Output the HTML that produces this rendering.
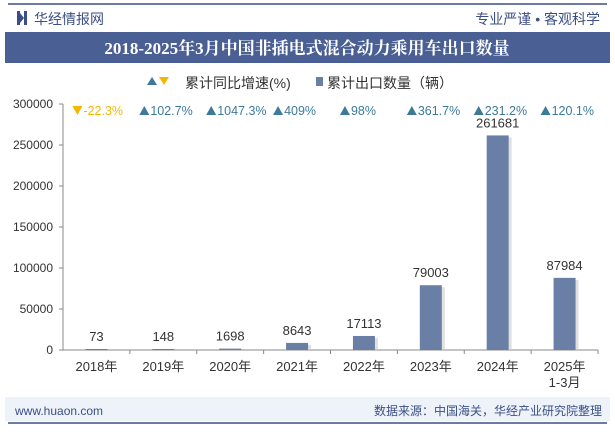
<!DOCTYPE html>
<html><head><meta charset="utf-8"><style>
body{margin:0;width:615px;height:427px;background:#fff;font-family:"Liberation Sans","Noto Sans CJK SC",sans-serif;overflow:hidden}
</style></head><body>
<svg width="615" height="427" xmlns="http://www.w3.org/2000/svg" style="font-family:'Liberation Sans','Noto Sans CJK SC',sans-serif">
<line x1="8" y1="4" x2="607" y2="4" stroke="#3b4f86" stroke-width="1.5"/>
<rect x="17" y="11" width="3" height="14" fill="#3b4f86"/><rect x="24" y="11" width="3" height="14" fill="#3b4f86"/><polygon points="20,13 24,18 20,23" fill="#3b4f86"/>
<text x="34" y="24" font-size="14" fill="#3b4f86">华经情报网</text>
<text x="600" y="24" font-size="14" fill="#3b4f86" text-anchor="end">专业严谨 • 客观科学</text>
<rect x="5" y="32" width="605" height="31" fill="#4a5f93"/>
<text x="307" y="54" font-size="17" font-weight="bold" fill="#fff" text-anchor="middle" font-family="'Liberation Serif','Noto Serif CJK SC',serif">2018-2025年3月中国非插电式混合动力乘用车出口数量</text>
<g>
<polygon points="147,85 152,77 157,85" fill="#3d7a9a"/><polygon points="159,77 169,77 164,85" fill="#f5b800"/>
<text x="185" y="88" font-size="14" fill="#333">累计同比增速(%)</text>
<rect x="316" y="77" width="7" height="9" fill="#6a7fa6"/>
<text x="327" y="88" font-size="14" fill="#333">累计出口数量（辆）</text>
</g>
<g id="axes"></g><g id="plot"></g>
<rect x="5" y="397" width="605" height="24" fill="#eef2f9"/>
<text x="15" y="415" font-size="12" fill="#3b4f86">www.huaon.com</text>
<text x="602" y="415" font-size="12" fill="#3b4f86" text-anchor="end">数据来源：中国海关，华经产业研究院整理</text>
<line x1="8" y1="423" x2="607" y2="423" stroke="#3b4f86" stroke-width="1.5"/>
</svg>
<script>
const categories=["2018年","2019年","2020年","2021年","2022年","2023年","2024年","2025年\n1-3月"];
const exportsVal=[73,148,1698,8643,17113,79003,261681,87984];
const growth=[-22.3,102.7,1047.3,409,98,361.7,231.2,120.1];
const growthLabels=["-22.3%","102.7%","1047.3%","409%","98%","361.7%","231.2%","120.1%"];
const yTicks=[0,50000,100000,150000,200000,250000,300000];
const NS="http://www.w3.org/2000/svg";
const x0=63,x1=598,yB=350,yT=104,yMax=300000;
const bw=(x1-x0)/categories.length;
const xc=i=>x0+bw*(i+0.5);
const y=v=>yB-(v/yMax)*(yB-yT);
function mk(t,a,p){const e=document.createElementNS(NS,t);for(const k in a)e.setAttribute(k,a[k]);p.appendChild(e);return e;}
const ax=document.getElementById('axes'),pl=document.getElementById('plot');
let l=mk('line',{x1:x0,y1:yT,x2:x0,y2:yB,stroke:'#888'},ax);


l=mk('line',{x1:x0,y1:yB,x2:x1,y2:yB,stroke:'#888'},ax);


yTicks.forEach(v=>{
 mk('line',{x1:x0-4,y1:y(v),x2:x0,y2:y(v),stroke:'#888'},ax);
 const t=mk('text',{x:x0-10,y:y(v)+4,'font-size':12,fill:'#333','text-anchor':'end'},ax);t.textContent=v;
 
 
});
categories.forEach((c,i)=>{
 mk('line',{x1:x0+bw*(i+1),y1:yB,x2:x0+bw*(i+1),y2:yB+4,stroke:'#888'},ax);
 c.split("\n").forEach((s,k)=>{const t=mk('text',{x:xc(i),y:yB+21+k*16,'font-size':13,fill:'#333','text-anchor':'middle'},ax);t.textContent=s;
 
 });
 const v=exportsVal[i],by=y(v),h=Math.max(yB-by,1);
 mk('rect',{x:xc(i)-11+3,y:yB-h+2,width:22,height:h-2,fill:'#ccc',opacity:0.6},pl);
 const b=mk('rect',{x:xc(i)-11,y:yB-h,width:22,height:h,fill:'#6a7fa6'},pl);
 
 
 const vt=mk('text',{x:xc(i),y:yB-h-8,'font-size':13,fill:'#333','text-anchor':'middle'},pl);vt.textContent=v;
 
 
 const up=growth[i]>=0,col=up?'#3d7a9a':'#f5b800';
 const gx=xc(i)-24,gy=111;
 mk('polygon',{points:up?`${gx},${gy+4} ${gx+5},${gy-5} ${gx+10},${gy+4}`:`${gx},${gy-5} ${gx+10},${gy-5} ${gx+5},${gy+4}`,fill:col},pl);
 const gt=mk('text',{x:gx+11,y:gy+4,'font-size':12.5,fill:col},pl);gt.textContent=growthLabels[i];
 
 
});
</script>
</body></html>
